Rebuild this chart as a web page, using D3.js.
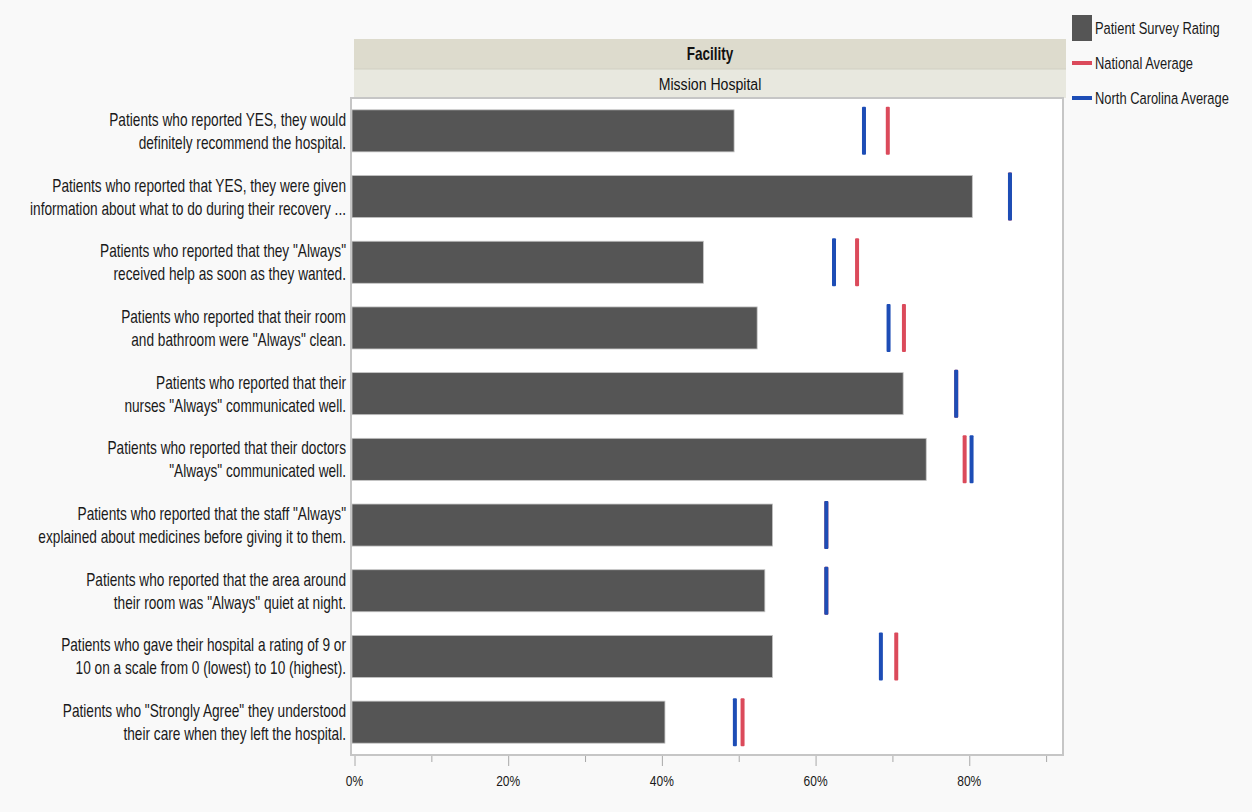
<!DOCTYPE html>
<html>
<head>
<meta charset="utf-8">
<script src="https://cdn.jsdelivr.net/npm/d3@7"></script>
<style>
  body { margin: 0; background: #f9f9f9; }
  svg { display: block; font-family: "Liberation Sans", Arial, sans-serif; }
</style>
</head>
<body>
<div id="container"></div>
<script>
// question labels (two lines each, as wrapped in the original)
var questions = [
	["Patients who reported YES, they would", "definitely recommend the hospital."],
	["Patients who reported that YES, they were given", "information about what to do during their recovery ..."],
	["Patients who reported that they \"Always\"", "received help as soon as they wanted."],
	["Patients who reported that their room", "and bathroom were \"Always\" clean."],
	["Patients who reported that their", "nurses \"Always\" communicated well."],
	["Patients who reported that their doctors", "\"Always\" communicated well."],
	["Patients who reported that the staff \"Always\"", "explained about medicines before giving it to them."],
	["Patients who reported that the area around", "their room was \"Always\" quiet at night."],
	["Patients who gave their hospital a rating of 9 or", "10 on a scale from 0 (lowest) to 10 (highest)."],
	["Patients who \"Strongly Agree\" they understood", "their care when they left the hospital."]
];

// values in percent
var surveyRating = [49.4, 80.4, 45.4, 52.4, 71.4, 74.4, 54.4, 53.4, 54.4, 40.4];
var nationalAvg  = [69.4, 85.3, 65.4, 71.5, 78.3, 79.4, 61.4, 61.4, 70.5, 50.5];
var ncAvg        = [66.3, 85.3, 62.4, 69.5, 78.3, 80.3, 61.4, 61.4, 68.5, 49.5];

var tickValues = [0, 20, 40, 60, 80];
var minorTicks = [10, 30, 50, 70, 90];

var legendItems = ["Patient Survey Rating", "National Average", "North Carolina Average"];

var width = 1252, height = 812;
var plot = {left: 351, right: 1063, top: 98, bottom: 755};

var barColor = "#555555", redColor = "#db4a5b", blueColor = "#1d4db6";

var svg = d3.select("#container").append("svg")
	.attr("width", width)
	.attr("height", height);

// places a squeezed text (no condensed font installed): anchor point (px, py)
function narrowText(parent, px, py, str, anchor, size, squeeze, weight) {
	return parent.append("text")
		.attr("transform", "translate(" + px + "," + py + ") scale(" + squeeze + ",1)")
		.attr("text-anchor", anchor)
		.style("font-size", size + "px")
		.style("font-weight", weight || "normal")
		.style("fill", "#1a1a1a")
		.text(str);
}

//scales
var x = d3.scaleLinear().domain([0, 92.2]).range([354.5, plot.right]);
var y = d3.scaleBand().domain(d3.range(questions.length)).range([plot.top, plot.bottom]).paddingInner(0.36).paddingOuter(0.18);

// header bands
svg.append("rect").attr("x", 354).attr("y", 39).attr("width", 712).attr("height", 30).style("fill", "#dddbcd");
svg.append("rect").attr("x", 354).attr("y", 69).attr("width", 712).attr("height", 29).style("fill", "#e8e8df");
svg.append("line").attr("x1", 354).attr("x2", 1066).attr("y1", 69).attr("y2", 69).style("stroke", "#d0cfc2");
narrowText(svg, 710, 60, "Facility", "middle", 18, 0.75, "bold").style("fill", "#111");
narrowText(svg, 710, 90, "Mission Hospital", "middle", 17, 0.83).style("fill", "#111");

// plot frame
svg.append("rect")
	.attr("x", plot.left).attr("y", plot.top)
	.attr("width", plot.right - plot.left).attr("height", plot.bottom - plot.top)
	.style("fill", "#fff").style("stroke", "#c6c6c6").style("stroke-width", 2);

// bars
svg.selectAll(".bar")
	.data(surveyRating).enter()
	.append("rect")
		.attr("class", "bar")
		.attr("x", plot.left + 1)
		.attr("y", function(d, i) { return y(i); })
		.attr("width", function(d) { return x(d) - plot.left - 1; })
		.attr("height", y.bandwidth())
		.style("fill", barColor)
		.style("stroke", "#c4c4c4")
		.style("stroke-width", 0.8);

// average markers (red first, blue drawn over it)
function markers(values, color, cls) {
	svg.selectAll("." + cls)
		.data(values).enter()
		.append("rect")
			.attr("class", cls)
			.attr("x", function(d) { return x(d) - 2; })
			.attr("y", function(d, i) { return y(i) + y.bandwidth() / 2 - 24; })
			.attr("width", 4)
			.attr("height", 48)
			.attr("rx", 1)
			.style("fill", color);
}
markers(nationalAvg, redColor, "nat");
markers(ncAvg, blueColor, "nc");

// row labels
questions.forEach(function(lines, i) {
	var c = y(i) + y.bandwidth() / 2;
	lines.forEach(function(t, j) {
		narrowText(svg, 346, c - 5 + j * 23, t, "end", 18, 0.76);
	});
});

// axis
var xAxis = d3.axisBottom(x).tickValues(tickValues).tickSize(10).tickFormat("");
var axisG = svg.append("g")
	.attr("transform", "translate(0," + (plot.bottom + 1) + ")")
	.call(xAxis);
axisG.select(".domain").remove();
axisG.selectAll("line").style("stroke", "#a8a8a8");
tickValues.forEach(function(v) {
	narrowText(svg, x(v), plot.bottom + 31, v + "%", "middle", 15, 0.8);
});

svg.append("g")
	.attr("transform", "translate(0," + (plot.bottom + 1) + ")")
	.call(d3.axisBottom(x).tickValues(minorTicks).tickSize(6).tickFormat(""))
	.call(function(g) { g.select(".domain").remove(); g.selectAll("line").style("stroke", "#a8a8a8"); });

// legend
var legend = svg.selectAll(".legend")
	.data(legendItems).enter()
	.append("g")
		.attr("class", "legend")
		.attr("transform", function(d, i) { return "translate(1072," + (28 + i * 35) + ")"; });

legend.append("rect")
	.attr("x", 0)
	.attr("y", function(d, i) { return i == 0 ? -13 : -2; })
	.attr("width", 20)
	.attr("height", function(d, i) { return i == 0 ? 26 : 4; })
	.style("fill", function(d, i) { return [barColor, redColor, blueColor][i]; });

legend.each(function(d) {
	narrowText(d3.select(this), 23, 6, d, "start", 17, 0.76);
});
</script>
</body>
</html>
